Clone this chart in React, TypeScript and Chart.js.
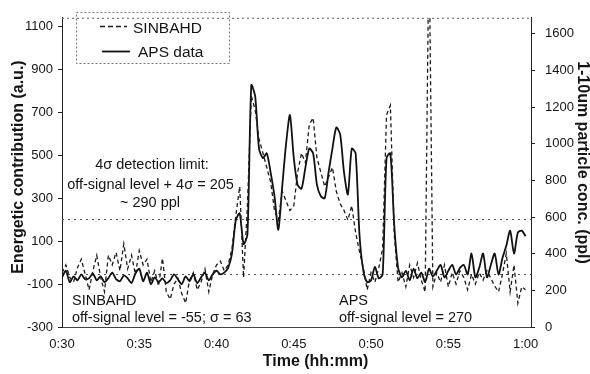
import React, { useEffect, useRef } from "react";
import { Chart, registerables } from "chart.js";

Chart.register(...registerables);

// ---- data (time in minutes after 0:00) ----
const times = [
  30, 30.25, 30.5, 30.75, 31, 31.25, 31.5, 31.75, 32, 32.25,
  32.5, 32.75, 33, 33.25, 33.5, 33.75, 34, 34.25, 34.5, 34.75,
  35, 35.25, 35.5, 35.75, 36, 36.25, 36.5, 36.75, 37, 37.25,
  37.5, 37.75, 38, 38.25, 38.5, 38.75, 39, 39.25, 39.5, 39.75,
  40, 40.25, 40.5, 40.75, 41, 41.25, 41.5, 41.75, 42, 42.25,
  42.5, 42.75, 43, 43.25, 43.5, 43.75, 44, 44.25, 44.5, 44.75,
  45, 45.25, 45.5, 45.75, 46, 46.25, 46.5, 46.75, 47, 47.25,
  47.5, 47.75, 48, 48.25, 48.5, 48.75, 49, 49.25, 49.5, 49.75,
  50, 50.25, 50.5, 50.75, 51, 51.25, 51.5, 51.75, 52, 52.25,
  52.5, 52.75, 53, 53.25, 53.5, 53.75, 54, 54.25, 54.5, 54.75,
  55, 55.25, 55.5, 55.75, 56, 56.25, 56.5, 56.75, 57, 57.25,
  57.5, 57.75, 58, 58.25, 58.5, 58.75, 59, 59.25, 59.5, 59.75,
  60,
];

// SINBAHD energetic contribution (a.u.), left axis
const sinbahd = [
  -47, -11, -69, -91, -24, 16, -55, -127, -38, 34,
  -69, -136, 34, -11, 47, -38, 87, -29, 34, -55,
  56, -11, 16, -91, -38, -109, 20, -136, -171, -100,
  -73, -144, -189, -82, -47, -127, -91, -29, -136, -55,
  -11, 7, -38, -11, 65, 220, 354, -69, 265, 777,
  710, 576, 510, 443, 376, 243, 198, 332, 287, 243,
  265, 421, 510, 465, 643, 674, 487, 421, 354, 398,
  443, 332, 274, 243, 198, 265, 140, 51, -24, -127,
  -47, -91, -24, 65, 688, 732, 131, -91, -47, -113,
  -11, -69, -2, -82, -136, 1500, -113, -47, -91, -11,
  -113, -47, -100, -38, -69, -127, -55, -100, -47, -82,
  -38, -73, -109, -136, -55, 42, -136, -11, -189, -113,
  -127,
];

// APS 1-10um particle concentration (ppl), right axis
const aps = [
  271, 307, 245, 276, 255, 287, 261, 266, 292, 255,
  276, 245, 266, 297, 261, 250, 281, 266, 240, 292,
  318, 250, 297, 234, 271, 245, 266, 240, 255, 287,
  261, 234, 276, 250, 287, 240, 271, 297, 255, 287,
  307, 287, 297, 323, 401, 584, 620, 453, 505, 1320,
  1260, 974, 922, 948, 844, 714, 531, 766, 1000, 1157,
  922, 776, 755, 870, 974, 948, 776, 714, 703, 844,
  974, 1089, 1052, 844, 724, 974, 948, 505, 307, 245,
  255, 328, 266, 287, 922, 948, 557, 323, 271, 307,
  255, 318, 266, 297, 245, 318, 276, 307, 339, 271,
  307, 339, 287, 323, 339, 287, 401, 271, 323, 401,
  271, 339, 401, 287, 375, 443, 526, 401, 516, 526,
  495,
];

const xTickValues = [30, 35, 40, 45, 50, 55, 60];
const xTickLabels = ["0:30", "0:35", "0:40", "0:45", "0:50", "0:55", "1:00"];
const leftTicks = [-300, -100, 100, 300, 500, 700, 900, 1100];
const rightTicks = [0, 200, 400, 600, 800, 1000, 1200, 1400, 1600];
const referenceLevels = [-55, 205]; // SINBAHD off-signal level, 4σ detection limit

const FONT = '"Liberation Sans", Arial, Helvetica, sans-serif';
const INK = "#151515";

const overlay = {
  id: "overlay",
  beforeDatasetsDraw(chart: any) {
    const { ctx, chartArea: a, scales } = chart;
    ctx.save();
    ctx.lineWidth = 1;
    ctx.strokeStyle = "#555";
    ctx.setLineDash([2, 4]);
    for (const v of referenceLevels) {
      const py = Math.round(scales.y.getPixelForValue(v)) + 0.5;
      ctx.beginPath();
      ctx.moveTo(a.left, py);
      ctx.lineTo(a.right, py);
      ctx.stroke();
    }
    // top frame
    ctx.strokeStyle = "#666";
    ctx.setLineDash([2, 3]);
    ctx.beginPath();
    ctx.moveTo(a.left, a.top + 0.5);
    ctx.lineTo(a.right, a.top + 0.5);
    ctx.stroke();
    ctx.restore();
  },
  afterDraw(chart: any) {
    const { ctx } = chart;
    ctx.save();
    ctx.fillStyle = INK;
    // legend
    ctx.lineWidth = 1;
    ctx.strokeStyle = "#777";
    ctx.setLineDash([2, 2]);
    ctx.strokeRect(76.5, 12.5, 153, 51);
    ctx.strokeStyle = "#1c1c1c";
    ctx.lineWidth = 1.3;
    ctx.setLineDash([5, 3]);
    ctx.beginPath();
    ctx.moveTo(100, 26.5);
    ctx.lineTo(127, 26.5);
    ctx.stroke();
    ctx.setLineDash([]);
    ctx.lineWidth = 1.8;
    ctx.strokeStyle = "#111";
    ctx.beginPath();
    ctx.moveTo(102, 51.5);
    ctx.lineTo(130, 51.5);
    ctx.stroke();
    ctx.textBaseline = "alphabetic";
    ctx.textAlign = "left";
    ctx.font = `15.5px ${FONT}`;
    ctx.fillText("SINBAHD", 133, 33);
    ctx.fillText("APS data", 138, 57);

    // annotations
    ctx.font = `14.5px ${FONT}`;
    ctx.textAlign = "center";
    ctx.fillText("4\u03c3 detection limit:", 152, 169);
    ctx.fillText("off-signal level + 4\u03c3 = 205", 150.5, 188.5);
    ctx.fillText("~ 290 ppl", 150, 207);
    ctx.textAlign = "left";
    ctx.fillText("SINBAHD", 72, 305);
    ctx.fillText("off-signal level = -55; \u03c3 = 63", 72, 322);
    ctx.fillText("APS", 339, 305);
    ctx.fillText("off-signal level = 270", 339, 322);

    // axis titles
    ctx.font = `bold 16px ${FONT}`;
    ctx.textAlign = "center";
    ctx.fillText("Time (hh:mm)", 315.5, 366);
    ctx.save();
    ctx.translate(23, 167);
    ctx.rotate(-Math.PI / 2);
    ctx.fillText("Energetic contribution (a.u.)", 0, 0);
    ctx.restore();
    ctx.save();
    ctx.translate(577.5, 162.5);
    ctx.rotate(Math.PI / 2);
    ctx.fillText("1-10um particle conc. (ppl)", 0, 0);
    ctx.restore();
    ctx.restore();
  },
};

export default function App() {
  const ref = useRef<HTMLCanvasElement>(null);
  useEffect(() => {
    const canvas = ref.current!;
    const tickFont = { family: FONT, size: 13 };
    const plain = (v: any) => String(v);
    const chart = new Chart(canvas, {
      type: "line",
      data: {
        datasets: [
          {
            label: "SINBAHD",
            data: times.map((t, i) => ({ x: t, y: sinbahd[i] })),
            yAxisID: "y",
            borderColor: "#1c1c1c",
            borderWidth: 1.3,
            borderDash: [4, 3],
            pointRadius: 0,
            tension: 0,
          },
          {
            label: "APS data",
            data: times.map((t, i) => ({ x: t, y: aps[i] })),
            yAxisID: "y1",
            borderColor: "#111",
            borderWidth: 1.8,
            pointRadius: 0,
            tension: 0.25,
          },
        ],
      },
      options: {
        responsive: false,
        animation: false,
        layout: { padding: { top: 3, left: 0, right: 0, bottom: 0 } },
        plugins: { legend: { display: false }, tooltip: { enabled: false }, title: { display: false } },
        scales: {
          x: {
            type: "linear",
            min: 30,
            max: 60.35,
            afterBuildTicks: (s: any) => {
              s.ticks = xTickValues.map((v) => ({ value: v }));
            },
            afterFit: (s: any) => {
              s.height = 47;
            },
            ticks: {
              autoSkip: false,
              maxRotation: 0,
              padding: 10,
              font: tickFont,
              color: INK,
              callback: (v: any) => {
                const k = xTickValues.indexOf(Number(v));
                return k >= 0 ? xTickLabels[k] : "";
              },
            },
            grid: { display: false, drawTicks: false },
            border: { display: true, color: "#444", dash: [1, 12] },
          },
          y: {
            position: "left",
            min: -300,
            max: 1140,
            afterBuildTicks: (s: any) => {
              s.ticks = leftTicks.map((v) => ({ value: v }));
            },
            afterFit: (s: any) => {
              s.width = 62;
            },
            ticks: { autoSkip: false, padding: 5, font: tickFont, color: INK, callback: plain },
            grid: { drawOnChartArea: false, drawTicks: true, tickLength: 4, color: "#222" },
            border: { display: true, color: "#222", width: 1 },
          },
          y1: {
            position: "right",
            min: 0,
            max: 1688,
            afterBuildTicks: (s: any) => {
              s.ticks = rightTicks.map((v) => ({ value: v }));
            },
            afterFit: (s: any) => {
              s.width = 59;
            },
            ticks: { autoSkip: false, padding: 10, font: tickFont, color: INK, callback: plain },
            grid: { drawOnChartArea: false, drawTicks: true, tickLength: 4, color: "#222" },
            border: { display: true, color: "#222", width: 1 },
          },
        },
      },
      plugins: [overlay],
    } as any);
    return () => chart.destroy();
  }, []);
  return (
    <div style={{ position: "fixed", left: 0, top: 0, width: 590, height: 374, background: "#fff" }}>
      <canvas ref={ref} width={590} height={374} style={{ display: "block" }} />
    </div>
  );
}
